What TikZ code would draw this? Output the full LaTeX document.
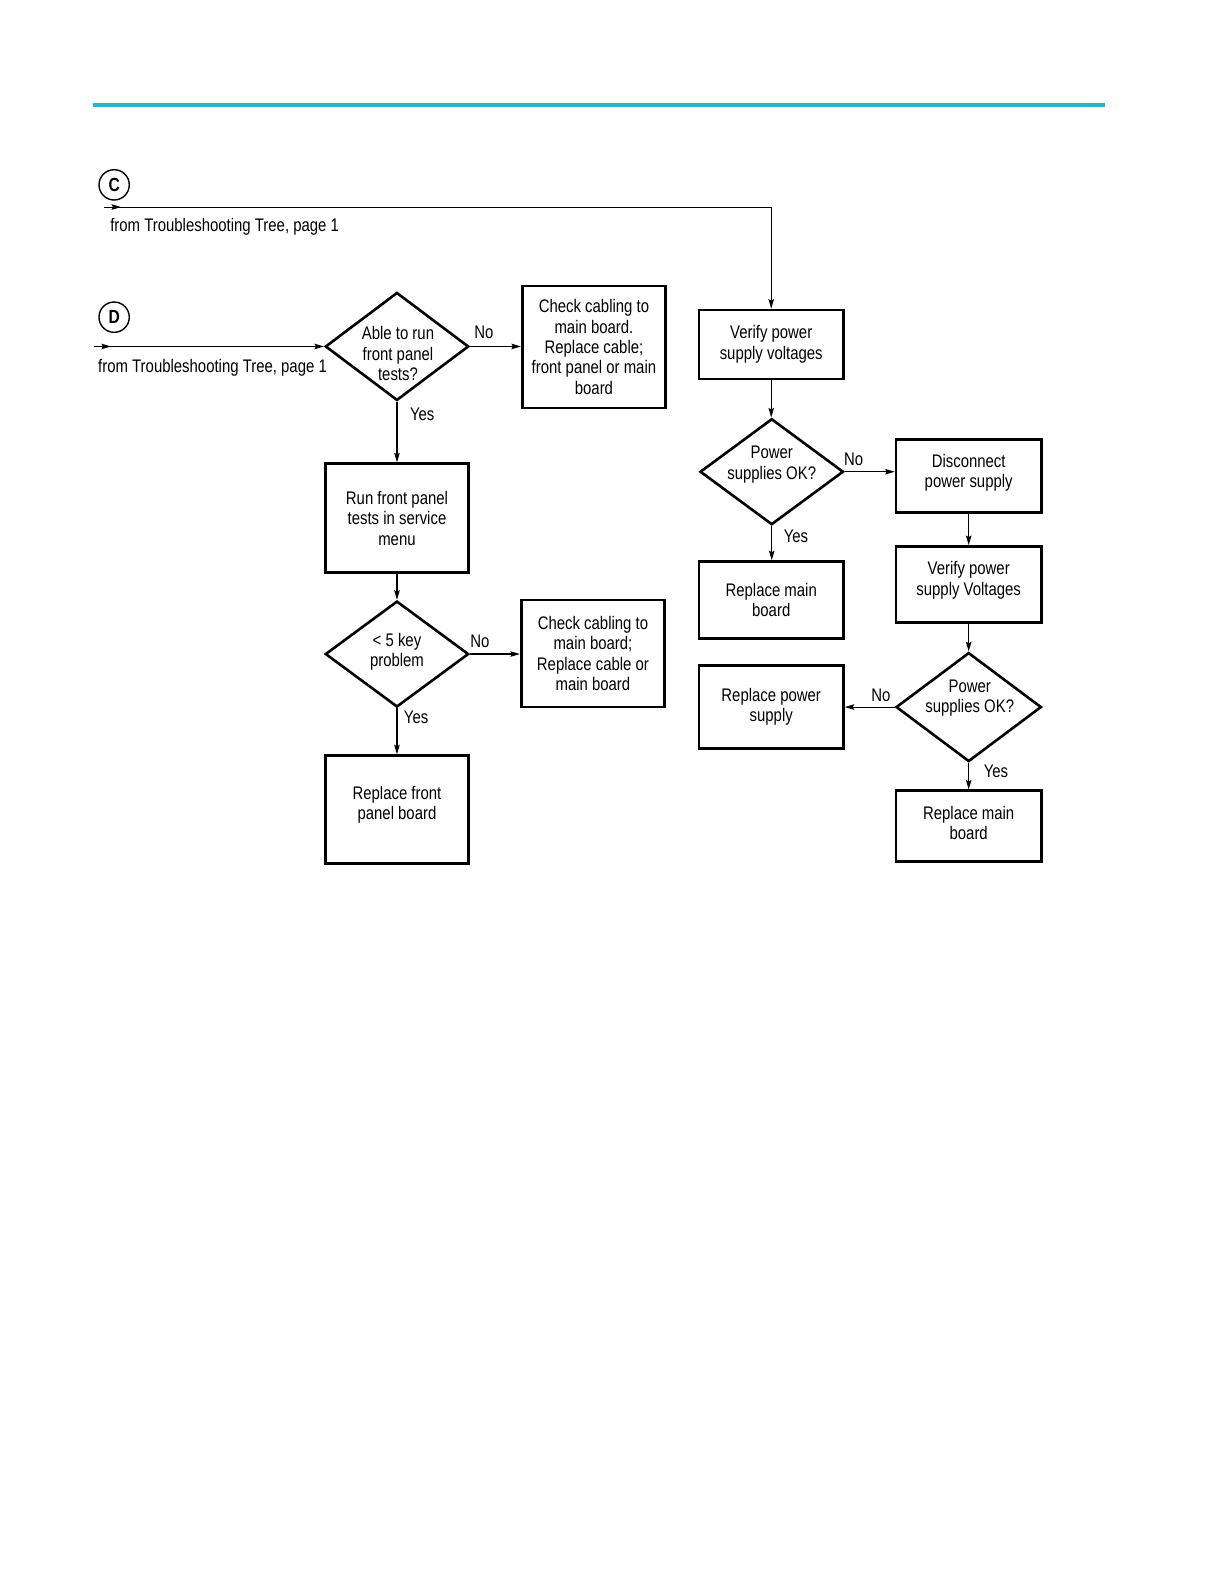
\documentclass[tikz,border=0pt]{standalone}
\usepackage{fontspec}
\setmainfont{Liberation Sans}[FakeStretch=0.82]
\usetikzlibrary{shapes.geometric,arrows.meta,decorations.markings}
\newcommand\dfont{\fontsize{18.2}{20.4}\selectfont}
\definecolor{teal1}{HTML}{22B5CC}
\begin{document}
\begin{tikzpicture}[x=1.0101pt,y=-1.0101pt,
  box/.style={draw,line width=2.6pt,minimum width=143.4pt,inner sep=0pt,align=center,font=\dfont},
  dia/.style={draw,diamond,line width=2.6pt,inner sep=0pt,minimum width=143.4pt},
  txt/.style={align=center,font=\dfont,inner sep=0pt},
  lbl/.style={font=\dfont,inner sep=0pt},
  conn/.style={line width=1.1pt,-{Stealth[length=9.5pt,width=5.5pt,inset=1.5pt]}},
  startmark/.style={postaction={decorate},decoration={markings,mark=at position 17pt with {\arrow{Stealth[length=9.5pt,width=5.5pt,inset=1.5pt]}}}},
  circ/.style={draw,circle,line width=1.4pt,minimum size=30.3pt,inner sep=0pt,font=\fontsize{19}{20}\selectfont\bfseries}
]
\useasboundingbox (0pt,0pt) rectangle (1224pt,-1584pt);
\draw[line width=4pt,teal1] (92,104) -- (1094,104);

% entry points
\node[circ] (cC) at (113,183) {C};
\node[circ] (cD) at (113,314) {D};
\coordinate (cs) at (103,205);
\coordinate (ds) at (93,343);
\node[lbl,anchor=west] (fromC) at (109,225) {from Troubleshooting Tree, page 1};
\node[lbl,anchor=west] (fromD) at (97,364) {from Troubleshooting Tree, page 1};

% left column
\node[dia,minimum height=108pt] (d1) at (393,343) {};
\node[txt] (d1t) at (394,350) {Able to run\\front panel\\tests?};
\node[box,minimum height=122pt] (b1) at (588,343.5) {Check cabling to\\main board.\\Replace cable;\\front panel or main\\board};
\node[box,minimum height=109pt] (b2) at (393,513) {Run front panel\\tests in service\\menu};
\node[dia,minimum height=106pt] (d2) at (393,647.5) {};
\node[txt] (d2t) at (393,645) {< 5 key\\problem};
\node[box,minimum height=107pt] (b3) at (587,647) {Check cabling to\\main board;\\Replace cable or\\main board};
\node[box,minimum height=108pt] (b4) at (393,801.5) {};
\node[txt] (b4t) at (393,796.5) {Replace front\\panel board};

% right column
\node[box,minimum width=144.4pt,minimum height=69pt] (b5) at (763.5,341) {Verify power\\supply voltages};
\node[dia,minimum height=106pt] (d3) at (764,467) {};
\node[txt] (d3t) at (764,460) {Power\\supplies OK?};
\node[box,minimum width=145.4pt,minimum height=73pt] (b6) at (959,471) {};
\node[txt] (b6t) at (959,468) {Disconnect\\power supply};
\node[box,minimum width=144.4pt,minimum height=77pt] (b7) at (763.5,594) {Replace main\\board};
\node[box,minimum width=145.4pt,minimum height=76pt] (b8) at (959,578.5) {};
\node[txt] (b8t) at (959,574.5) {Verify power\\supply Voltages};
\node[dia,minimum width=145.4pt,minimum height=109pt] (d4) at (959,700) {};
\node[txt] (d4t) at (960,691) {Power\\supplies OK?};
\node[box,minimum width=144.4pt,minimum height=83pt] (b9) at (763.5,700) {Replace power\\supply};
\node[box,minimum width=145.4pt,minimum height=71pt] (b10) at (959,818) {};
\node[txt] (b10t) at (959,815) {Replace main\\board};

% labels
\node[lbl] (l1n) at (479,329) {No};
\node[lbl] (l1y) at (418,410) {Yes};
\node[lbl] (l2n) at (475,635) {No};
\node[lbl] (l2y) at (412,710) {Yes};
\node[lbl] (l3n) at (845,455) {No};
\node[lbl] (l3y) at (788,531) {Yes};
\node[lbl] (l4n) at (872,688) {No};
\node[lbl] (l4y) at (986,764) {Yes};

% edges
\draw[conn,startmark] (cs) -| (b5.north);
\draw[conn,startmark] (ds) -- (d1.west);
\draw[conn] (d1.east) -- (b1.west |- d1.east);
\draw[conn] (d1.south) -- (b2.north);
\draw[conn] (b2.south) -- (d2.north);
\draw[conn] (d2.east) -- (b3.west |- d2.east);
\draw[conn] (d2.south) -- (b4.north);
\draw[conn] (b5.south) -- (b5.south |- d3.north);
\draw[conn] (d3.east) -- (b6.west |- d3.east);
\draw[conn] (d3.south) -- (d3.south |- b7.north);
\draw[conn] (b6.south) -- (b8.north);
\draw[conn] (b8.south) -- (d4.north);
\draw[conn] (d4.west) -- (b9.east |- d4.west);
\draw[conn] (d4.south) -- (b10.north);
\end{tikzpicture}
\end{document}
